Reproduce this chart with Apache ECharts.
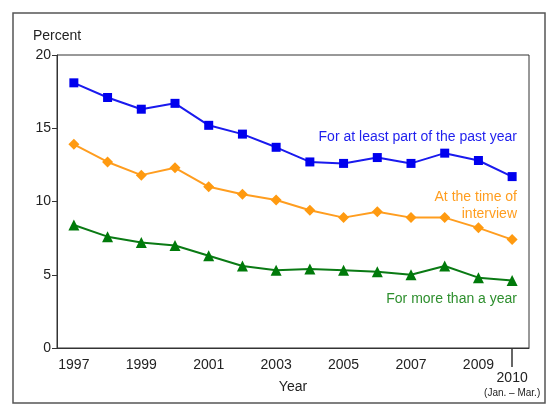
<!DOCTYPE html>
<html>
<head>
<meta charset="utf-8">
<script src="https://cdn.jsdelivr.net/npm/echarts@6/dist/echarts.min.js"></script>
<style>
  html, body { margin: 0; padding: 0; background: #fff; }
  #chart { width: 560px; height: 420px; }
</style>
</head>
<body>
<div id="chart"></div>
<script>
// years on the x axis
const years = ['1997', '1998', '1999', '2000', '2001', '2002', '2003',
  '2004', '2005', '2006', '2007', '2008', '2009', '2010'];

// percent without health insurance, by length of time
const partOfPastYear = [18.1, 17.1, 16.3, 16.7, 15.2, 14.6, 13.7, 12.7, 12.6, 13.0, 12.6, 13.3, 12.8, 11.7];
const atInterview = [13.9, 12.7, 11.8, 12.3, 11.0, 10.5, 10.1, 9.4, 8.9, 9.3, 8.9, 8.9, 8.2, 7.4];
const moreThanYear = [8.4, 7.6, 7.2, 7.0, 6.3, 5.6, 5.3, 5.4, 5.3, 5.2, 5.0, 5.6, 4.8, 4.6];

const yTicks = [0, 5, 10, 15, 20];

const font = 'Liberation Sans, Arial, sans-serif';
const lastIdx = years.length - 1;

const chart = echarts.init(document.getElementById('chart'));

const option = {
  animation: false,
  backgroundColor: '#fff',
  textStyle: { fontFamily: font },
  grid: {
    left: 57, top: 55, right: 31, bottom: 72,
    show: true, borderColor: '#333', borderWidth: 1
  },
  xAxis: [{
    type: 'category',
    data: years,
    boundaryGap: true,
    name: 'Year',
    nameLocation: 'middle',
    nameGap: 32,
    nameTextStyle: { fontSize: 14, color: '#222', fontFamily: font },
    axisLine: { lineStyle: { color: '#333', width: 1 } },
    axisTick: { inside: true, length: 5, alignWithLabel: true, interval: 0, lineStyle: { color: '#333' } },
    axisLabel: {
      interval: (i) => i % 2 === 0,
      margin: 10,
      fontSize: 14,
      color: '#222',
      fontFamily: font
    },
    splitLine: { show: false }
  }, {
    // carries the long 2010 tick and its label
    type: 'category',
    data: years,
    boundaryGap: true,
    position: 'bottom',
    axisLine: { show: false },
    axisTick: {
      show: true, inside: false, length: 19, alignWithLabel: true,
      interval: (i) => i === lastIdx,
      lineStyle: { color: '#333', width: 1.5 }
    },
    axisLabel: {
      interval: (i) => i === lastIdx,
      showMinLabel: false,
      margin: 22,
      color: '#222',
      fontFamily: font,
      formatter: (v) => '{a|' + v + '}\n{b|(Jan. – Mar.)}',
      rich: {
        a: { fontSize: 14, color: '#222', fontFamily: font, lineHeight: 16 },
        b: { fontSize: 10, color: '#222', fontFamily: font, lineHeight: 14 }
      }
    },
    splitLine: { show: false }
  }],
  yAxis: {
    type: 'value',
    min: yTicks[0],
    max: yTicks[yTicks.length - 1],
    interval: 5,
    name: 'Percent',
    nameLocation: 'end',
    nameGap: 12,
    nameTextStyle: { fontSize: 14, color: '#222', fontFamily: font },
    axisLine: { show: true, lineStyle: { color: '#333', width: 1 } },
    axisTick: { show: true, length: 5, lineStyle: { color: '#333' } },
    axisLabel: { fontSize: 14, color: '#222', margin: 6, fontFamily: font },
    splitLine: { show: false }
  },
  series: [{
    name: 'For at least part of the past year',
    type: 'line',
    data: partOfPastYear,
    symbol: 'rect',
    symbolSize: 9,
    lineStyle: { color: '#1a1aee', width: 2 },
    itemStyle: { color: '#0000ee' }
  }, {
    name: 'At the time of interview',
    type: 'line',
    data: atInterview,
    symbol: 'diamond',
    symbolSize: 11,
    lineStyle: { color: '#ff9d1f', width: 2 },
    itemStyle: { color: '#ff9a10' }
  }, {
    name: 'For more than a year',
    type: 'line',
    data: moreThanYear,
    symbol: 'triangle',
    symbolSize: 11,
    lineStyle: { color: '#0a7a14', width: 2 },
    itemStyle: { color: '#007a0a' }
  }],
  graphic: [{
    type: 'rect',
    shape: { x: 13, y: 13, width: 532, height: 390 },
    style: { fill: 'none', stroke: '#555', lineWidth: 1.5 },
    silent: true
  }, {
    type: 'text',
    x: 517, y: 137,
    style: { text: 'For at least part of the past year', fill: '#1f1fee', font: '14px ' + font, align: 'right', verticalAlign: 'middle' }
  }, {
    type: 'text',
    x: 517, y: 206,
    style: { text: 'At the time of\ninterview', fill: '#ff9d1f', font: '14px ' + font, align: 'right', verticalAlign: 'middle', lineHeight: 17 }
  }, {
    type: 'text',
    x: 517, y: 299,
    style: { text: 'For more than a year', fill: '#2e8f2e', font: '14px ' + font, align: 'right', verticalAlign: 'middle' }
  }]
};

chart.setOption(option);
</script>
</body>
</html>
